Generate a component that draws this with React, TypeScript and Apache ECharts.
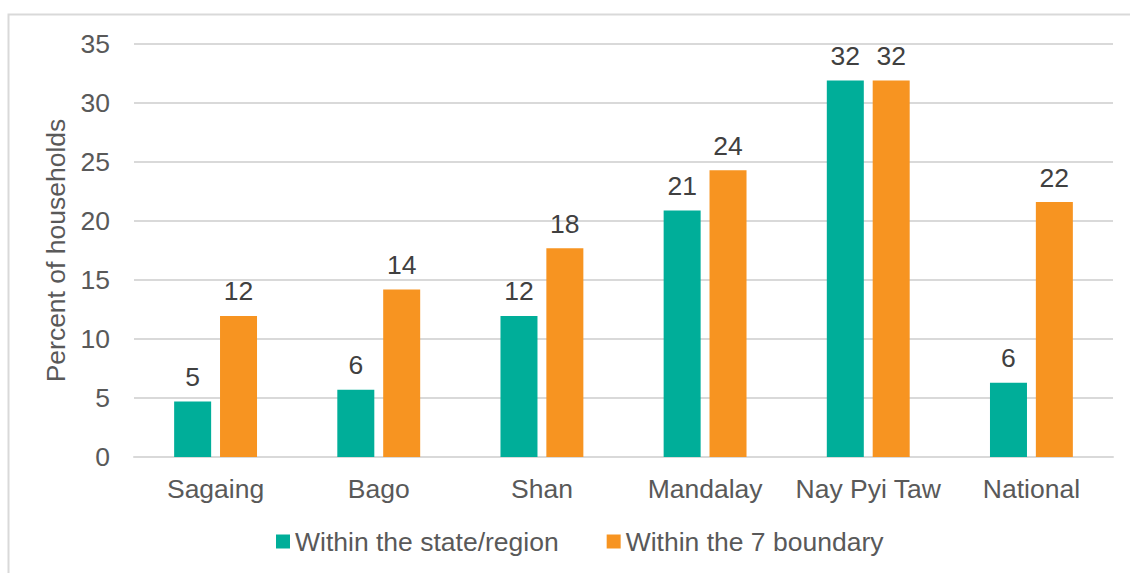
import React, { useEffect, useRef } from "react";
import * as echarts from "echarts";

const categories = ["Sagaing", "Bago", "Shan", "Mandalay", "Nay Pyi Taw", "National"];
const withinStateRegion = [4.7, 5.7, 11.95, 20.9, 31.9, 6.3];
const withinBoundary = [11.95, 14.2, 17.7, 24.3, 31.9, 21.6];
const seriesNames = ["Within the state/region", "Within the 7 boundary"];
const yAxisTitle = "Percent of households";

const FONT = "'Liberation Sans', Arial, Helvetica, sans-serif";
const FS = 26.5;

export default function App() {
  const ref = useRef<HTMLDivElement>(null);
  useEffect(() => {
    document.body.style.margin = "0";
    const chart = echarts.init(ref.current!, null, { renderer: "svg" });
    const label = {
      show: true,
      position: "top",
      distance: 11,
      color: "#404040",
      fontSize: FS,
      fontFamily: FONT,
      formatter: (p: any) => String(Math.round(p.value)),
    };
    chart.setOption({
      animation: false,
      backgroundColor: "#ffffff",
      textStyle: { fontFamily: FONT },
      graphic: [
        {
          type: "rect",
          shape: { x: 8.5, y: 14.5, width: 1200, height: 700 },
          style: { fill: "none", stroke: "#D9D9D9", lineWidth: 2 },
          silent: true,
          z: -1,
        },
      ],
      grid: { left: 134, right: 17, top: 44, bottom: 116, containLabel: false },
      legend: {
        top: 528,
        left: 276,
        padding: 0,
        itemWidth: 14,
        itemHeight: 14,
        itemGap: 48,
        icon: "rect",
        textStyle: { color: "#595959", fontSize: FS, fontFamily: FONT },
        data: seriesNames,
      },
      xAxis: {
        type: "category",
        data: categories,
        axisTick: { show: false },
        axisLine: { show: true, lineStyle: { color: "#D9D9D9", width: 2 } },
        axisLabel: { color: "#595959", fontSize: FS, fontFamily: FONT, margin: 18, interval: 0 },
      },
      yAxis: {
        type: "value",
        min: 0,
        max: 35,
        interval: 5,
        name: yAxisTitle,
        nameLocation: "middle",
        nameGap: 59,
        nameTextStyle: { color: "#595959", fontSize: FS, fontFamily: FONT },
        axisLabel: { color: "#595959", fontSize: FS, fontFamily: FONT, margin: 24 },
        splitLine: { lineStyle: { color: "#D9D9D9", width: 2 } },
        axisLine: { show: false },
        axisTick: { show: false },
      },
      series: [
        {
          name: seriesNames[0],
          type: "bar",
          data: withinStateRegion,
          barWidth: 37,
          barGap: "24%",
          itemStyle: { color: "#00AE99" },
          label,
        },
        {
          name: seriesNames[1],
          type: "bar",
          data: withinBoundary,
          barWidth: 37,
          itemStyle: { color: "#F79421" },
          label,
        },
      ],
    });
    return () => chart.dispose();
  }, []);
  return <div ref={ref} style={{ width: 1130, height: 573 }} />;
}
